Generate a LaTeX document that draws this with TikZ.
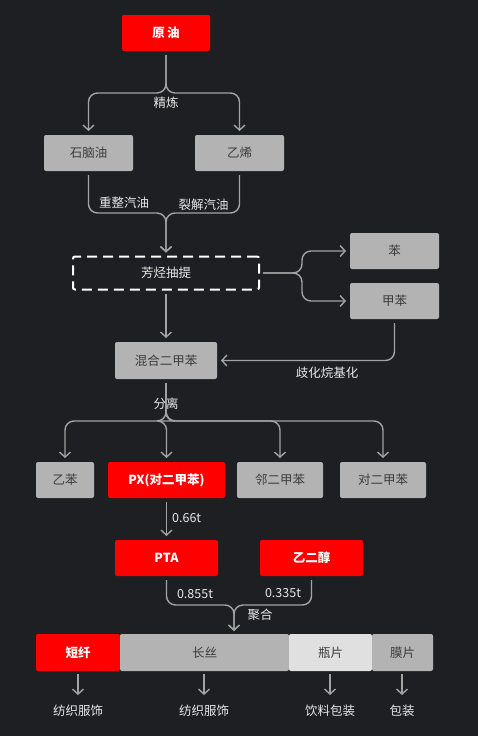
\documentclass[tikz,border=0pt]{standalone}
\usepackage{fontspec}
\setmainfont{Noto Sans CJK SC}
\usetikzlibrary{arrows.meta,calc}
\definecolor{bgdark}{HTML}{1E1F22}
\definecolor{boxred}{HTML}{FF0000}
\definecolor{boxgray}{HTML}{B3B3B3}
\definecolor{boxlight}{HTML}{E0E0E0}
\definecolor{linegray}{HTML}{A3A3A3}
\definecolor{labeltext}{HTML}{E8E8E8}
\definecolor{darktext}{HTML}{3C3C3C}
\newcommand{\chartfont}{\fontsize{12.5}{15}\selectfont}

\tikzset{
  redbox/.style={fill=boxred,text=white,font=\chartfont\bfseries,rounded corners=2pt,
    minimum height=36pt,inner sep=0pt,outer sep=4pt},
  graybox/.style={fill=boxgray,text=darktext,rounded corners=2pt,
    minimum height=36pt,inner sep=0pt,outer sep=4pt},
  dashbox/.style={draw=white,line width=2pt,dash pattern=on 10pt off 6pt,
    rounded corners=2pt,text=labeltext,minimum height=33pt,inner sep=0pt,outer sep=4pt},
  barpart/.style={minimum height=37pt,inner sep=0pt,outer sep=3pt,rounded corners=2pt},
  steplabel/.style={text=labeltext,inner sep=0pt},
  link/.style={draw=linegray,line width=1.4pt,rounded corners=9pt,
    -{Straight Barb[length=5pt,width=11pt,line width=1.4pt]}},
}

\begin{document}
\begin{tikzpicture}[x=1pt,y=-1pt,font=\chartfont]
\path[use as bounding box,fill=bgdark] (0,0) rectangle (478,736);

% top: crude oil and refining
\node[redbox,minimum width=88pt] (yuanyou) at (166,33) {原\,油};
\node[graybox,minimum width=89pt] (shinaoyou) at (88.5,153) {石脑油};
\node[graybox,minimum width=89pt] (yixi) at (239.5,153) {乙烯};
\coordinate (jRefine) at (166,93);
\draw[link] (yuanyou.south) -- (jRefine) -| (shinaoyou.north);
\draw[link] (yuanyou.south) -- (jRefine) -| (yixi.north);
\node[steplabel] (lRefine) at (166,103) {精炼};

% gasoline streams into aromatics extraction
\node[dashbox,minimum width=186pt] (fangting) at (166,273) {芳烃抽提};
\coordinate (jGas) at (166,213);
\draw[link] (shinaoyou.south) |- (jGas) -- (fangting.north);
\draw[link] (yixi.south) |- (jGas) -- (fangting.north);
\node[steplabel] (lReform) at (124,203) {重整汽油};
\node[steplabel] (lCrack) at (203.5,205) {裂解汽油};

% benzene and toluene
\node[graybox,minimum width=89pt] (ben) at (394.5,251) {苯};
\node[graybox,minimum width=89pt] (jiaben) at (394.5,301) {甲苯};
\coordinate (jArom) at (302,273);
\draw[link] (fangting.east) -- (jArom) |- (ben.west);
\draw[link] (fangting.east) -- (jArom) |- (jiaben.west);

% mixed xylene
\node[graybox,minimum width=102pt,minimum height=37pt] (hunhe) at (166,360.5) {混合二甲苯};
\draw[link] (fangting.south) -- (hunhe.north);
\draw[link] (jiaben.south) |- (hunhe.east);
\node[steplabel] (lAlkyl) at (327,373) {歧化烷基化};

% separation
\node[graybox,minimum width=58pt] (yiben) at (65,480) {乙苯};
\node[redbox,minimum width=117pt] (px) at (166.5,480) {PX(对二甲苯)};
\node[graybox,minimum width=86pt] (linerjia) at (280,480) {邻二甲苯};
\node[graybox,minimum width=86pt] (duierjia) at (383,480) {对二甲苯};
\coordinate (jSep) at (166,421);
\foreach \t in {yiben,px,linerjia,duierjia}
  \draw[link] (hunhe.south) -- (jSep) -| (\t.north);
\node[steplabel] (lSep) at (166,404) {分离};

% PTA and glycol
\node[redbox,minimum width=103pt] (pta) at (166.5,558) {PTA};
\node[redbox,minimum width=103pt] (yierchun) at (311.5,558) {乙二醇};
\draw[link] (px.south) -- (pta.north);
\node[steplabel,anchor=west] (lPx) at (172,518) {0.66t};

% polymerisation bar
\node[barpart,fill=boxred,text=white,font=\chartfont\bfseries,minimum width=84pt] (duanxian) at (78,652.5) {短纤};
\node[barpart,fill=boxgray,text=darktext,minimum width=169pt] (changsi) at (204.5,652.5) {长丝};
\node[barpart,fill=boxlight,text=darktext,minimum width=83pt] (pingpian) at (330.5,652.5) {瓶片};
\node[barpart,fill=boxgray,text=darktext,minimum width=61pt] (mopian) at (402.5,652.5) {膜片};
\coordinate (jPoly) at (234,605);
\draw[link] (pta.south) |- (jPoly) -- (changsi.north -| jPoly);
\draw[link] (yierchun.south) |- (jPoly) -- (changsi.north -| jPoly);
\node[steplabel] (lPta) at (195,594) {0.855t};
\node[steplabel] (lGly) at (283,593) {0.335t};
\node[steplabel] (lPoly) at (260,615) {聚合};

% end uses
\node[steplabel] (use1) at (78,711) {纺织服饰};
\node[steplabel] (use2) at (204,711) {纺织服饰};
\node[steplabel] (use3) at (330,711) {饮料包装};
\node[steplabel] (use4) at (402,711) {包装};
\draw[link,shorten >=10pt] (duanxian.south) -- (use1.north);
\draw[link,shorten >=10pt] (use2.north |- changsi.south) -- (use2.north);
\draw[link,shorten >=10pt] (use3.north |- pingpian.south) -- (use3.north);
\draw[link,shorten >=10pt] (use4.north |- mopian.south) -- (use4.north);
\end{tikzpicture}
\end{document}
